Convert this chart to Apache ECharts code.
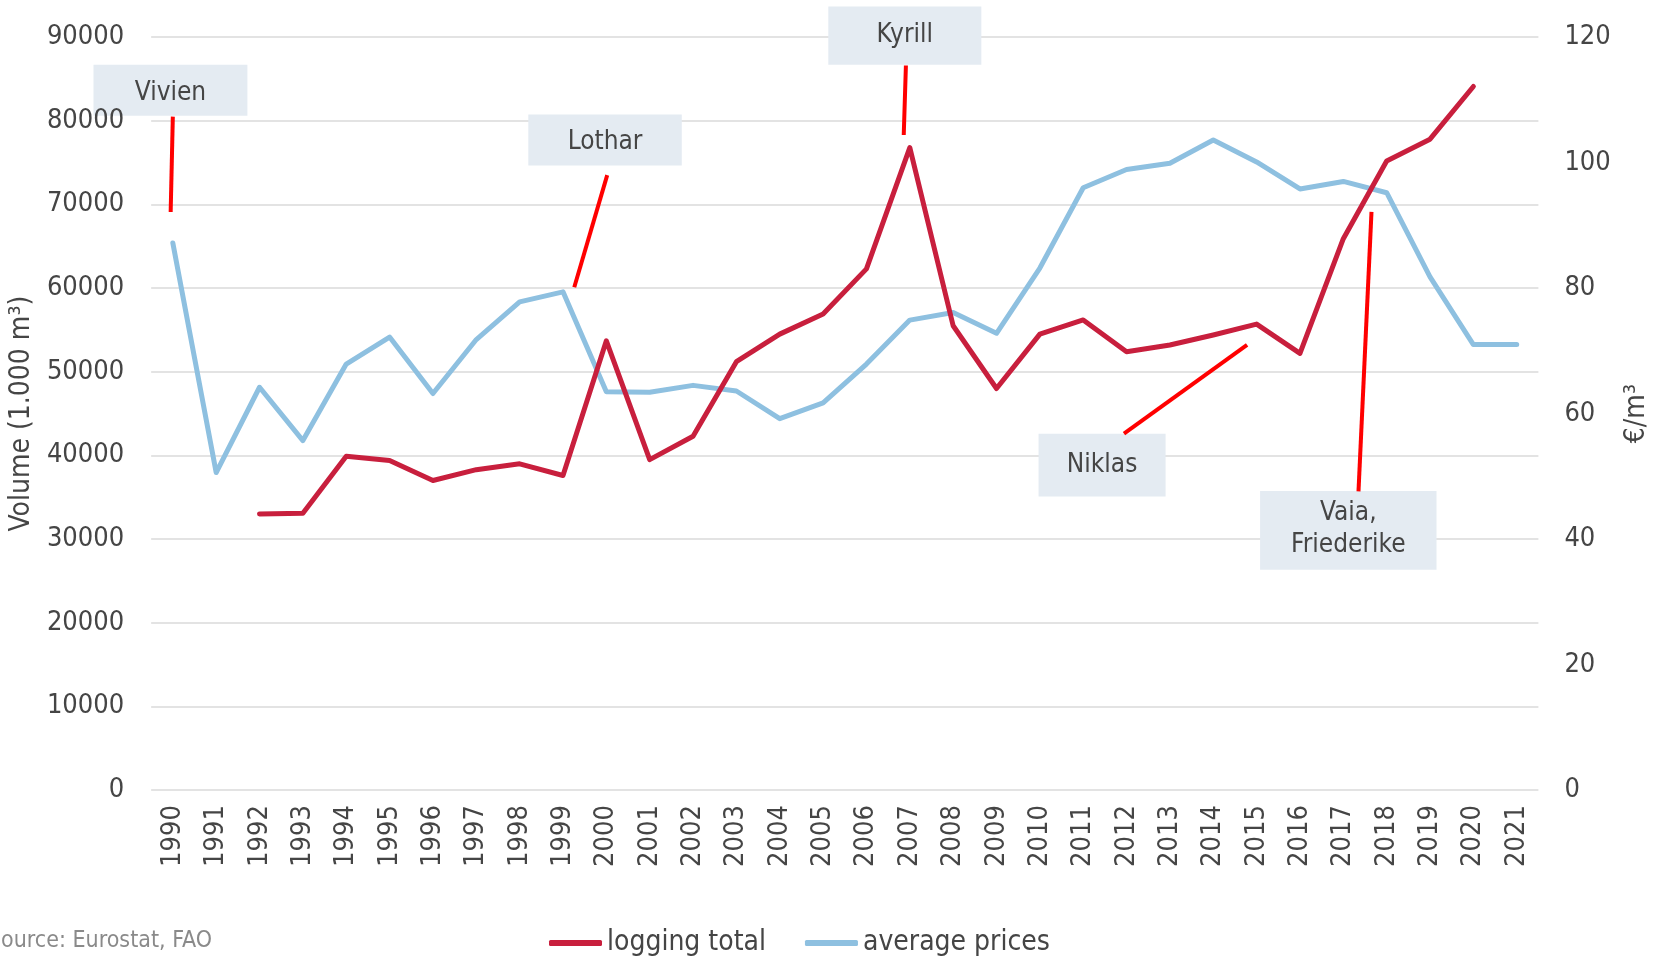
<!DOCTYPE html>
<html>
<head>
<meta charset="utf-8">
<script src="https://cdn.jsdelivr.net/npm/echarts@6/dist/echarts.min.js"></script>
<style>
html,body{margin:0;padding:0;background:#ffffff;}
#chart{width:1663px;height:958px;}
</style>
</head>
<body>
<div id="chart"></div>
<script>
// ---- data ----
const years = ['1990','1991','1992','1993','1994','1995','1996','1997','1998','1999',
  '2000','2001','2002','2003','2004','2005','2006','2007','2008','2009',
  '2010','2011','2012','2013','2014','2015','2016','2017','2018','2019','2020','2021'];
// logging total, 1.000 m³
const loggingTotal = [null,null,33000,33100,39900,39400,37000,38300,39000,37600,
  53700,39500,42300,51200,54500,56900,62300,76800,55500,48000,
  54500,56200,52400,53200,54400,55700,52200,65900,75200,77800,84100,null];
// average prices, €/m³
const averagePrices = [87.2,50.6,64.2,55.7,67.9,72.2,63.2,71.8,77.8,79.4,
  63.5,63.4,64.5,63.6,59.2,61.7,67.9,74.9,76.1,72.8,
  83.2,96.0,98.9,99.9,103.6,100.1,95.8,97.0,95.2,81.8,71.0,71.0];
const seriesNames = ['logging total','average prices'];
const leftAxisName = 'Volume (1.000 m³)';
const rightAxisName = '€/m³';
const leftTicks = [0,10000,20000,30000,40000,50000,60000,70000,80000,90000];
const rightTicks = [0,20,40,60,80,100,120];
const sourceText = 'Source: Eurostat, FAO';

// storm annotations (x in fractional years, y in 1.000 m³)
const stormNames = ['Vivien','Lothar','Kyrill','Niklas','Vaia,\nFriederike'];
const stormBoxX = [[1988.17,1991.72],[1998.20,2001.74],[2005.12,2008.65],[2009.97,2012.90],[2015.08,2019.15]];
const stormBoxY = [[80600,86700],[74650,80750],[86700,93650],[35100,42600],[26350,35750]];
const stormTextDy = [3,2,0,0,-1];
const stormLineFrom = [[1990.00,80500],[2000.02,73500],[2006.91,86600],[2014.78,53200],[2017.65,69100]];
const stormLineTo   = [[1989.95,69100],[1999.26,60100],[2006.86,78300],[2011.94,42600],[2017.35,35700]];

// ---- chart ----
const FONT = "'DejaVu Sans Condensed', 'DejaVu Sans', sans-serif";
const TXT = '#454545';
const chart = echarts.init(document.getElementById('chart'));

const stormSeries = stormNames.map((n, i) => ({
  name: 'storm-' + i,
  type: 'line',
  xAxisIndex: 1,
  yAxisIndex: 0,
  data: [stormLineFrom[i], stormLineTo[i]],
  symbol: 'none',
  silent: true,
  clip: false,
  z: 4,
  lineStyle: {color: '#FF0000', width: 4, cap: 'butt'}
}));

const option = {
  backgroundColor: '#ffffff',
  animation: false,
  textStyle: {fontFamily: FONT},
  grid: {left: 150, right: 124.6, top: 37.1, bottom: 167.9, containLabel: false},
  legend: {
    data: seriesNames,
    left: 544, top: 924,
    icon: 'roundRect',
    itemWidth: 53, itemHeight: 6, itemGap: 39,
    textStyle: {fontFamily: FONT, fontSize: 28, color: TXT}
  },
  xAxis: [{
    type: 'category',
    data: years,
    boundaryGap: true,
    axisLine: {show: false},
    axisTick: {show: false},
    axisLabel: {rotate: 90, interval: 0, fontSize: 27, color: TXT, fontFamily: FONT, margin: 15}
  }, {
    type: 'value',
    min: 1989.5, max: 2021.5,
    show: false,
    splitLine: {show: false}
  }],
  yAxis: [{
    type: 'value',
    min: leftTicks[0], max: leftTicks[leftTicks.length - 1], interval: leftTicks[1] - leftTicks[0],
    name: leftAxisName,
    nameLocation: 'middle', nameRotate: 90, nameGap: 97,
    nameTextStyle: {fontSize: 28, color: TXT, fontFamily: FONT},
    axisLine: {show: false}, axisTick: {show: false},
    axisLabel: {fontSize: 27, color: TXT, fontFamily: FONT, margin: 27, padding: [4, 0, 0, 0],
      formatter: v => String(v)},
    splitLine: {lineStyle: {color: '#e3e3e3', width: 2}}
  }, {
    type: 'value',
    position: 'right',
    min: rightTicks[0], max: rightTicks[rightTicks.length - 1], interval: rightTicks[1] - rightTicks[0],
    name: rightAxisName,
    nameLocation: 'middle', nameRotate: 90, nameGap: 84,
    nameTextStyle: {fontSize: 28, color: TXT, fontFamily: FONT},
    axisLine: {show: false}, axisTick: {show: false},
    axisLabel: {fontSize: 27, color: TXT, fontFamily: FONT, margin: 26, padding: [4, 0, 0, 0],
      formatter: v => String(v)},
    splitLine: {show: false}
  }],
  series: [{
    name: seriesNames[0],
    type: 'line',
    data: loggingTotal,
    yAxisIndex: 0,
    symbol: 'none',
    connectNulls: false,
    z: 3,
    lineStyle: {color: '#C81F3D', width: 5, cap: 'round', join: 'round'},
    itemStyle: {color: '#C81F3D'}
  }, {
    name: seriesNames[1],
    type: 'line',
    data: averagePrices,
    yAxisIndex: 1,
    symbol: 'none',
    z: 2,
    lineStyle: {color: '#8EC0E0', width: 5, cap: 'round', join: 'round'},
    itemStyle: {color: '#8EC0E0'}
  }].concat(stormSeries)
};
chart.setOption(option);

// annotation boxes placed through the axes' own scales
const graphics = stormNames.map((n, i) => {
  const tl = chart.convertToPixel({xAxisIndex: 1, yAxisIndex: 0}, [stormBoxX[i][0], stormBoxY[i][1]]);
  const br = chart.convertToPixel({xAxisIndex: 1, yAxisIndex: 0}, [stormBoxX[i][1], stormBoxY[i][0]]);
  return {
    type: 'group',
    z: 10,
    children: [{
      type: 'rect',
      shape: {x: tl[0], y: tl[1], width: br[0] - tl[0], height: br[1] - tl[1]},
      style: {fill: '#E4EBF2'}
    }, {
      type: 'text',
      x: (tl[0] + br[0]) / 2,
      y: (tl[1] + br[1]) / 2 + stormTextDy[i],
      style: {
        text: n, fill: TXT, font: '26px ' + FONT,
        align: 'center', verticalAlign: 'middle', lineHeight: 32
      }
    }]
  };
});
graphics.push({
  type: 'text',
  x: 212, y: 941,
  style: {text: sourceText, fill: '#8a8a8a', font: '23px ' + FONT, align: 'right', verticalAlign: 'middle'}
});
chart.setOption({graphic: graphics});
</script>
</body>
</html>
